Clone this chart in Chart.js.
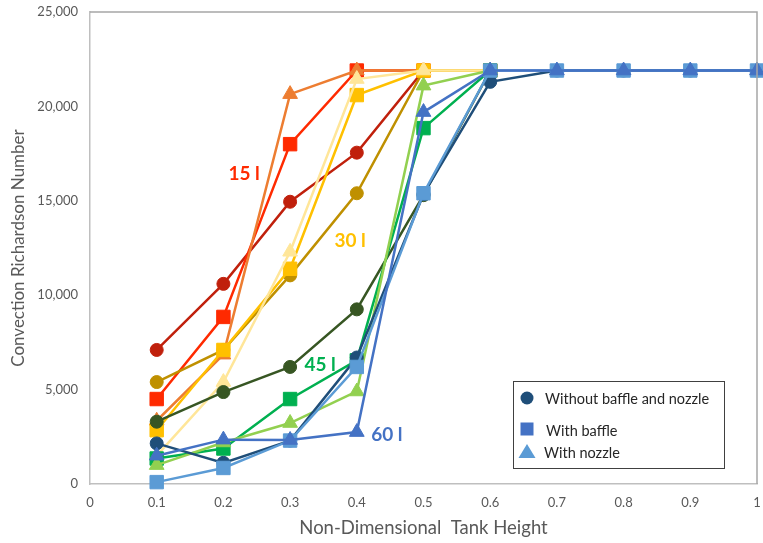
<!DOCTYPE html>
<html>
<head>
<meta charset="utf-8">
<script src="https://cdn.jsdelivr.net/npm/chart.js@4/dist/chart.umd.min.js"></script>
<style>
  html, body { margin: 0; padding: 0; background: #fff; overflow: hidden; }
  canvas { display: block; }
</style>
</head>
<body>
<canvas id="richardson" width="763" height="543"></canvas>
<script>
// non-dimensional tank height (x)
const heights = [0.1, 0.2, 0.3, 0.4, 0.5, 0.6, 0.7, 0.8, 0.9, 1.0];

// convection Richardson number, per tank volume and configuration
const ri15Plain  = [7100, 10600, 14950, 17550, 21900, 21900];
const ri15Baffle = [4500, 8850, 18000, 21900, 21900, 21900];
const ri15Nozzle = [3350, 6850, 20650, 21900, 21900, 21900];

const ri30Plain  = [5400, 7100, 11050, 15400, 21900, 21900];
const ri30Baffle = [2850, 7100, 11400, 20600, 21900, 21900];
const ri30Nozzle = [1500, 5400, 12300, 21450, 21900, 21900];

const ri45Plain  = [3300, 4870, 6200, 9250, 15300, 21900];
const ri45Baffle = [1350, 1880, 4500, 6550, 18850, 21900];
const ri45Nozzle = [1000, 2200, 3230, 4900, 21100, 21900];

const ri60Plain  = [2150, 1120, 2300, 6700, 15350, 21300, 21900, 21900, 21900, 21900];
const ri60Baffle = [100, 850, 2300, 6200, 15400, 21900, 21900, 21900, 21900, 21900];
const ri60Nozzle = [1500, 2350, 2330, 2750, 19700, 21900, 21900, 21900, 21900, 21900];

const volumeLabels = ['15 l', '30 l', '45 l', '60 l'];
const volumeLabelX = [0.231, 0.39, 0.345, 0.445];
const volumeLabelY = [16400, 12900, 6300, 2600];

const legendNames = ['Without baffle and nozzle', 'With baffle', 'With nozzle'];

const toPoints = vals => vals.map((v, i) => ({ x: heights[i], y: v }));

// draw order: 15 l first (bottom) ... 60 l last (top)
const series = [
    { vals: ri15Plain,  color: '#C0200C', style: 'circle',   r: 6.5 },
    { vals: ri15Baffle, color: '#FF2A00', style: 'rect',     r: 9.5 },
    { vals: ri15Nozzle, color: '#ED7D31', style: 'triangle', r: 8.5 },
    { vals: ri30Plain,  color: '#BF9000', style: 'circle',   r: 6.5 },
    { vals: ri30Baffle, color: '#FFC000', style: 'rect',     r: 9.5 },
    { vals: ri30Nozzle, color: '#FFE699', style: 'triangle', r: 8.5 },
    { vals: ri45Plain,  color: '#375623', style: 'circle',   r: 6.5 },
    { vals: ri45Baffle, color: '#00B050', style: 'rect',     r: 9.5 },
    { vals: ri45Nozzle, color: '#92D050', style: 'triangle', r: 8.5 },
    { vals: ri60Plain,  color: '#1F4E79', style: 'circle',   r: 6.5 },
    { vals: ri60Baffle, color: '#5B9BD5', style: 'rect',     r: 9.5 },
    { vals: ri60Nozzle, color: '#4472C4', style: 'triangle', r: 8.5 },
];

// Chart.js paints dataset 0 last, so reverse to keep 60 l on top
const datasets = series.slice().reverse().map(s => ({
    data: toPoints(s.vals),
    borderColor: s.color,
    backgroundColor: s.color,
    pointBackgroundColor: s.color,
    pointBorderColor: s.color,
    pointBorderWidth: 1,
    pointStyle: s.style,
    pointRadius: s.r,
    borderWidth: 2.5,
    tension: 0,
    clip: 12,
}));

const FONT = 'Lato, "Open Sans", sans-serif';

const frameAndText = {
    id: 'frameAndText',
    afterDraw(chart) {
        const ctx = chart.ctx;
        const a = chart.chartArea;
        const xs = chart.scales.x, ys = chart.scales.y;
        ctx.save();
        // top and right frame
        ctx.strokeStyle = '#A6A6A6';
        ctx.lineWidth = 1.5;
        ctx.beginPath();
        ctx.moveTo(a.left, a.top);
        ctx.lineTo(a.right, a.top);
        ctx.lineTo(a.right, a.bottom);
        ctx.stroke();

        // volume labels
        const labelColors = ['#FF2A00', '#FFC000', '#00B050', '#4472C4'];
        ctx.font = 'bold 19px ' + FONT;
        ctx.textAlign = 'center';
        ctx.textBaseline = 'middle';
        volumeLabels.forEach((t, i) => {
            ctx.fillStyle = labelColors[i];
            ctx.fillText(t, xs.getPixelForValue(volumeLabelX[i]), ys.getPixelForValue(volumeLabelY[i]));
        });

        // legend box
        const bx = a.right - 244, by = a.bottom - 103, bw = 211, bh = 87;
        ctx.fillStyle = '#fff';
        ctx.fillRect(bx, by, bw, bh);
        ctx.strokeStyle = '#404040';
        ctx.lineWidth = 1;
        ctx.strokeRect(bx + 0.5, by + 0.5, bw, bh);

        ctx.textAlign = 'left';
        ctx.font = '14.5px ' + FONT;
        const cx = bx + 14;
        const rows = [by + 17, by + 48, by + 71];
        ctx.fillStyle = '#1F4E79';
        ctx.beginPath();
        ctx.arc(cx, rows[0], 6.5, 0, Math.PI * 2);
        ctx.fill();
        ctx.fillStyle = '#4472C4';
        ctx.fillRect(cx - 6.5, rows[1] - 6.5, 13, 13);
        ctx.fillStyle = '#5B9BD5';
        ctx.beginPath();
        ctx.moveTo(cx, rows[2] - 8);
        ctx.lineTo(cx + 8.5, rows[2] + 6);
        ctx.lineTo(cx - 8.5, rows[2] + 6);
        ctx.closePath();
        ctx.fill();

        ctx.fillStyle = '#262626';
        ctx.fillText(legendNames[0], cx + 18, rows[0] + 1);
        ctx.fillText(legendNames[1], cx + 19, rows[1] + 2);
        ctx.fillText(legendNames[2], cx + 17, rows[2] + 1);
        ctx.restore();
    }
};

new Chart(document.getElementById('richardson'), {
    type: 'line',
    data: { datasets: datasets },
    options: {
        responsive: false,
        animation: false,
        layout: { autoPadding: false, padding: { left: 4, top: 12, right: 6, bottom: 4 } },
        plugins: {
            legend: { display: false },
            tooltip: { enabled: false },
        },
        scales: {
            x: {
                type: 'linear',
                min: 0,
                max: 1,
                grid: { display: false, drawTicks: false },
                border: { color: '#BFBFBF', width: 1.5 },
                ticks: {
                    stepSize: 0.1,
                    padding: 11,
                    color: '#595959',
                    font: { family: FONT, size: 13 },
                    callback: v => (Math.round(v * 10) / 10).toString(),
                },
                title: {
                    display: true,
                    text: 'Non-Dimensional  Tank Height',
                    color: '#595959',
                    font: { family: FONT, size: 18.5 },
                    padding: { top: 5, bottom: 0 },
                },
                afterFit: s => { s.height = 55; s.paddingLeft = 0; s.paddingRight = 0; },
            },
            y: {
                min: 0,
                max: 25000,
                grid: { display: false, drawTicks: false },
                border: { color: '#BFBFBF', width: 1.5 },
                ticks: {
                    stepSize: 5000,
                    padding: 12,
                    color: '#595959',
                    font: { family: FONT, size: 13 },
                },
                title: {
                    display: true,
                    text: 'Convection Richardson Number',
                    color: '#595959',
                    font: { family: FONT, size: 17 },
                    padding: { top: 4, bottom: 0 },
                },
                afterFit: s => { s.width = 86; s.paddingTop = 0; s.paddingBottom = 0; },
            },
        },
    },
    plugins: [frameAndText],
});
</script>
</body>
</html>
